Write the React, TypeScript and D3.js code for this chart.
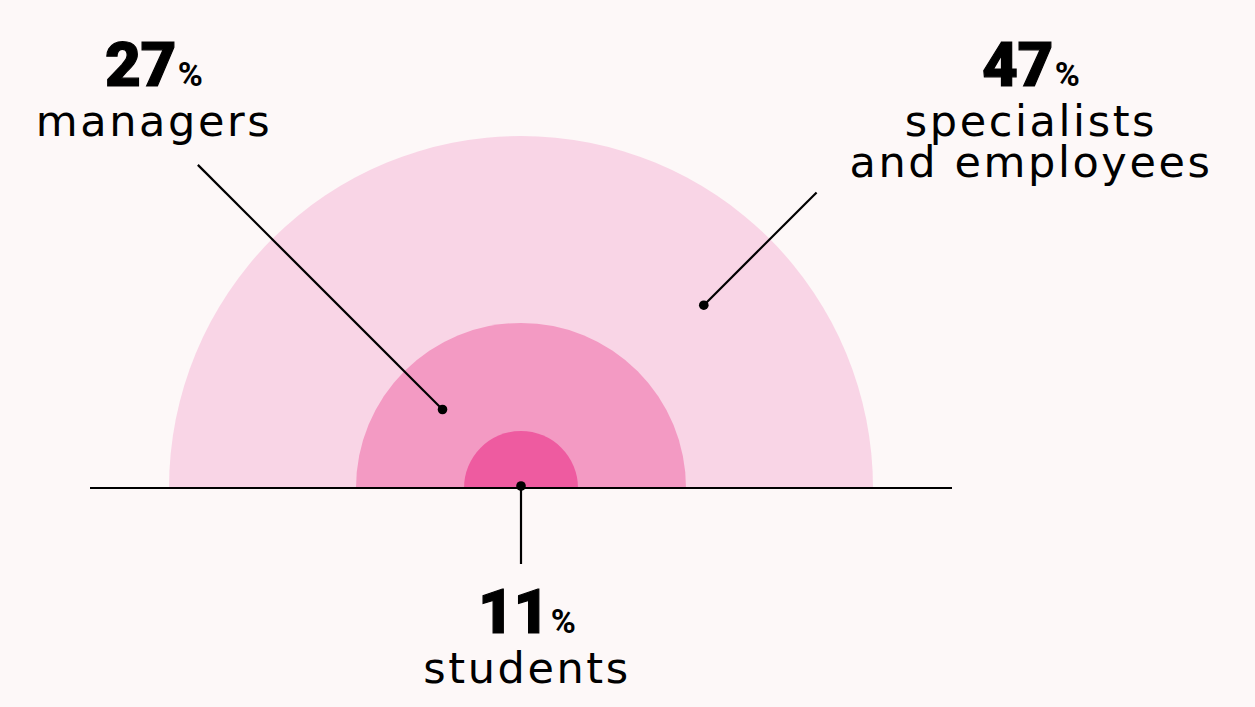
import React from "react";
import * as d3 from "d3";

// shares by group, outer ring first
const groups = ["specialists and employees", "managers", "students"];
const shares = [47, 27, 11];
const labelLines = [["specialists", "and employees"], ["managers"], ["students"]];
const ringColors = ["#f9d5e6", "#f39ac3", "#ee5ba0"];

const width = 1255;
const height = 707;
const cx = 521;
const cy = 488;

export default function App() {
  // radius follows share (piecewise, as drawn in the original)
  const sorted = [0, ...shares.slice().sort((a, b) => a - b)];
  const rScale = d3.scaleLinear().domain(sorted).range([0, 57, 165, 352]);

  const arc = d3
    .arc<any>()
    .innerRadius(0)
    .outerRadius((d: any) => rScale(d))
    .startAngle(-Math.PI / 2)
    .endAngle(Math.PI / 2);

  // anchor dot sits in the middle of each ring band; innermost at the centre
  const anchors = shares.map((s, i) =>
    i === shares.length - 1 ? 0 : (rScale(s) + rScale(shares[i + 1])) / 2
  );

  // leader angle, distance of leader end from centre, label centre
  const labelCfg = [
    { ang: -Math.PI / 4, end: 418, tx: 1031, ty: 86 },
    { ang: (-3 * Math.PI) / 4, end: 457, tx: 154, ty: 86 },
    { ang: Math.PI / 2, end: 76, tx: 527, ty: 633 },
  ];

  return (
    <svg
      width={width}
      height={height}
      style={{ position: "absolute", left: 0, top: 0, background: "#fdf8f8" }}
    >
      <g transform={`translate(${cx},${cy})`}>
        {shares.map((s, i) => (
          <path key={groups[i]} d={arc(s) as string} fill={ringColors[i]} />
        ))}
        <line x1={90 - cx} x2={952 - cx} y1={0} y2={0} stroke="#000" strokeWidth={2.2} />
        {shares.map((s, i) => {
          const c = labelCfg[i];
          const a = anchors[i];
          const x0 = a * Math.cos(c.ang);
          const y0 = a * Math.sin(c.ang);
          const x1 = c.end * Math.cos(c.ang);
          const y1 = c.end * Math.sin(c.ang);
          return (
            <g key={"lead" + i}>
              <line x1={x0} y1={y0} x2={x1} y2={y1} stroke="#000" strokeWidth={2.2} />
              <circle cx={x0} cy={i === 2 ? -2 : y0} r={4.8} fill="#000" />
            </g>
          );
        })}
      </g>
      {shares.map((s, i) => {
        const c = labelCfg[i];
        return (
          <g key={"lab" + i}>
            <text
              x={c.tx}
              y={c.ty}
              textAnchor="middle"
              fill="#000"
              style={{ fontFamily: "Roboto, sans-serif" }}
            >
              <tspan fontSize={62} fontWeight={900} letterSpacing={-0.5} stroke="#000" strokeWidth={1.2}>
                {s}
              </tspan>
              <tspan fontSize={34} fontWeight={700} dx={2}>
                %
              </tspan>
            </text>
            {labelLines[i].map((ln, j) => (
              <text
                key={ln}
                x={c.tx}
                y={c.ty + 50 + j * 41}
                textAnchor="middle"
                fill="#000"
                fontSize={43}
                letterSpacing={2.6}
                style={{ fontFamily: "'DejaVu Sans', sans-serif" }}
              >
                {ln}
              </text>
            ))}
          </g>
        );
      })}
    </svg>
  );
}
